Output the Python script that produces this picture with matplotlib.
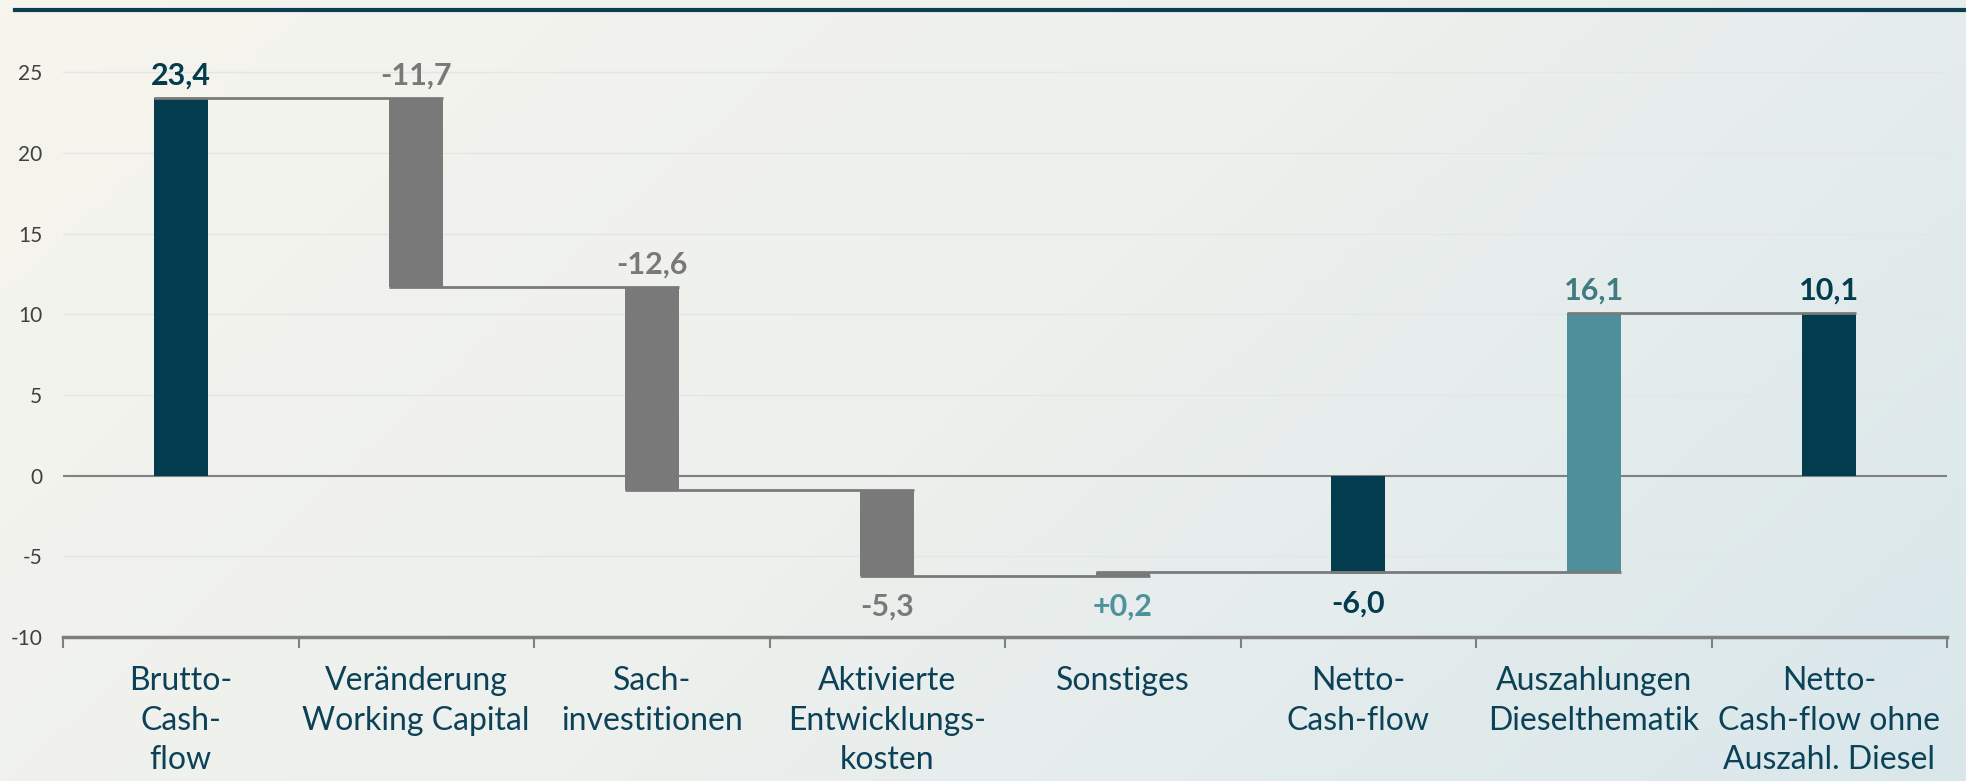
import numpy as np
import matplotlib
matplotlib.use("Agg")
import matplotlib.pyplot as plt
from matplotlib.colors import LinearSegmentedColormap

plt.rcParams['font.family'] = ['Lato', 'DejaVu Sans']

# Data
categories = [
    "Brutto-\nCash-\nflow",
    "Veränderung\nWorking Capital",
    "Sach-\ninvestitionen",
    "Aktivierte\nEntwicklungs-\nkosten",
    "Sonstiges",
    "Netto-\nCash-flow",
    "Auszahlungen\nDieselthematik",
    "Netto-\nCash-flow ohne\nAuszahl. Diesel",
]
values = [23.4, -11.7, -12.6, -5.3, 0.2, -6.0, 16.1, 10.1]
kinds = ["total", "delta", "delta", "delta", "delta", "total", "delta", "total"]
value_labels = ["23,4", "-11,7", "-12,6", "-5,3", "+0,2", "-6,0", "16,1", "10,1"]

NAVY = "#033b4f"
GREY = "#797979"
TEAL = "#4e8f9b"
bar_colors = [NAVY, GREY, GREY, GREY, GREY, NAVY, TEAL, NAVY]
label_colors = [NAVY, GREY, GREY, GREY, "#4f929b", NAVY, "#3f7b81", NAVY]

# waterfall bottoms / tops
bottoms, tops = [], []
running = 0.0
for v, k in zip(values, kinds):
    if k == "total":
        b, t = 0.0, v
    else:
        b, t = running, running + v
    running = t
    bottoms.append(b)
    tops.append(t)

fig = plt.figure(figsize=(19.66, 7.81), dpi=100)

# background gradient
bg = fig.add_axes([0, 0, 1, 1], zorder=-10)
xx, yy = np.meshgrid(np.linspace(0, 1, 300), np.linspace(0, 1, 120))
grad = 0.7 * xx + 0.3 * yy
cmap = LinearSegmentedColormap.from_list("bg", ["#f6f5ee", "#edf0ed", "#d9e7eb"])
bg.imshow(grad, cmap=cmap, aspect="auto", extent=[0, 1, 0, 1], origin="upper")
bg.axis("off")

# top rule
fig.add_artist(plt.Line2D([15 / 1966, 1], [1 - 10 / 781] * 2, color="#0d3d52", lw=3))

ax = fig.add_axes([63 / 1966, 144 / 781, (1947 - 63) / 1966, 597 / 781])
ax.set_facecolor("none")

x = np.arange(len(categories))
width = 0.23
heights = [t - b for b, t in zip(bottoms, tops)]
ax.bar(x, heights, bottom=bottoms, width=width, color=bar_colors, zorder=3)

# connectors
for i in range(len(x) - 1):
    level = tops[i]
    ax.plot([x[i] - width / 2, x[i + 1] + width / 2], [level, level],
            color="#7a7a7a", lw=2, zorder=4, solid_capstyle="butt")

ax.axhline(0, color="#808080", lw=1.5, zorder=2)

# value labels
for i, lab in enumerate(value_labels):
    hi = max(bottoms[i], tops[i])
    lo = min(bottoms[i], tops[i])
    if hi > 0:
        ax.annotate(lab, (x[i], hi), xytext=(0, 6), textcoords="offset points",
                    ha="center", va="bottom", fontsize=22, fontweight="bold",
                    color=label_colors[i])
    else:
        ax.annotate(lab, (x[i], lo), xytext=(0, -12), textcoords="offset points",
                    ha="center", va="top", fontsize=22, fontweight="bold",
                    color=label_colors[i])

ax.set_xlim(-0.5, len(categories) - 0.5)
ax.set_ylim(-10, 27)
ax.set_yticks([-10, -5, 0, 5, 10, 15, 20, 25])
ax.set_yticklabels(["-10", "-5", "0", "5", "10", "15", "20", "25"])
ax.tick_params(axis="y", length=0, pad=15, labelsize=15, labelcolor="#404040")
ax.grid(axis="y", color="#e4e6e6", lw=1, zorder=0)

ax.set_xticks(x)
ax.set_xticklabels(categories, fontsize=23, color="#0b4257", linespacing=1.4)
ax.set_xticks(np.arange(-0.5, len(categories)), minor=True)
ax.tick_params(axis="x", which="major", length=0, pad=21)
ax.tick_params(axis="x", which="minor", length=8, width=1.5, color="#808080")

for s in ["top", "right", "left"]:
    ax.spines[s].set_visible(False)
ax.spines["bottom"].set_color("#7f7f7f")
ax.spines["bottom"].set_linewidth(2.5)

fig.savefig("out.png", dpi=100)
